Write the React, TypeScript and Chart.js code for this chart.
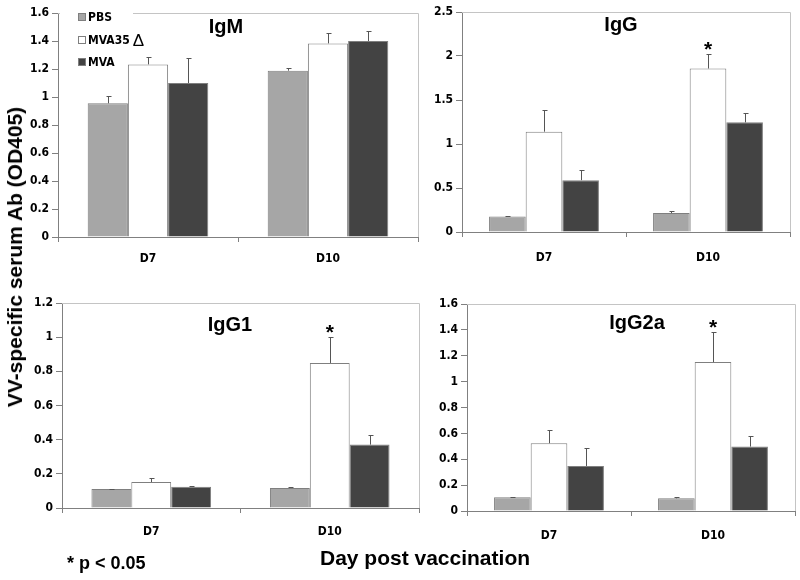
import React, { useEffect, useRef } from "react";
import { Chart, registerables } from "chart.js";

Chart.register(...registerables);

// ---------- data ----------
const categories = ["D7", "D10"];
const seriesNames = ["PBS", "MVA35", "MVA"];
const seriesColors = ["#a6a6a6", "#ffffff", "#434343"];

const igmPBS = [0.955, 1.188];
const igmMVA35 = [1.233, 1.383];
const igmMVA = [1.1, 1.4];
const igmPBSErr = [0.055, 0.022];
const igmMVA35Err = [0.05, 0.077];
const igmMVAErr = [0.18, 0.074];
const igmSig = [false, false];

const iggPBS = [0.177, 0.215];
const iggMVA35 = [1.14, 1.858];
const iggMVA = [0.589, 1.246];
const iggPBSErr = [0.008, 0.019];
const iggMVA35Err = [0.246, 0.17];
const iggMVAErr = [0.117, 0.102];
const iggSig = [false, true];

const igg1PBS = [0.111, 0.117];
const igg1MVA35 = [0.152, 0.849];
const igg1MVA = [0.125, 0.371];
const igg1PBSErr = [0.002, 0.006];
const igg1MVA35Err = [0.024, 0.152];
const igg1MVAErr = [0.006, 0.058];
const igg1Sig = [false, true];

const igg2aPBS = [0.106, 0.098];
const igg2aMVA35 = [0.524, 1.151];
const igg2aMVA = [0.348, 0.498];
const igg2aPBSErr = [0.002, 0.008];
const igg2aMVA35Err = [0.103, 0.232];
const igg2aMVAErr = [0.137, 0.083];
const igg2aSig = [false, true];

const yAxisTitle = "VV-specific serum Ab (OD405)";
const xAxisTitle = "Day post vaccination";
const footnote = "* p < 0.05";

// ---------- layout ----------
const YW = 44;
const XH = 40;
const PT = 12;
const PR = 12;
const NARROW = "'Liberation Sans Narrow', 'Arial Narrow', 'DejaVu Sans Condensed', sans-serif";
const SANS = "'Liberation Sans', Arial, Helvetica, sans-serif";

type Panel = {
  title: string;
  values: number[][];
  errors: number[][];
  sig: boolean[];
  yMax: number;
  yStep: number;
  area: { l: number; t: number; r: number; b: number };
  titleAt: [number, number];
  xPad: number;
  legend?: boolean;
};

const panels: Panel[] = [
  {
    title: "IgM",
    values: [igmPBS, igmMVA35, igmMVA],
    errors: [igmPBSErr, igmMVA35Err, igmMVAErr],
    sig: igmSig,
    yMax: 1.6,
    yStep: 0.2,
    area: { l: 58, t: 13, r: 418, b: 237 },
    titleAt: [168, 14],
    xPad: 10,
    legend: true,
  },
  {
    title: "IgG",
    values: [iggPBS, iggMVA35, iggMVA],
    errors: [iggPBSErr, iggMVA35Err, iggMVAErr],
    sig: iggSig,
    yMax: 2.5,
    yStep: 0.5,
    area: { l: 462, t: 12, r: 790, b: 232 },
    titleAt: [159, 13],
    xPad: 14,
  },
  {
    title: "IgG1",
    values: [igg1PBS, igg1MVA35, igg1MVA],
    errors: [igg1PBSErr, igg1MVA35Err, igg1MVAErr],
    sig: igg1Sig,
    yMax: 1.2,
    yStep: 0.2,
    area: { l: 62, t: 303, r: 419, b: 508 },
    titleAt: [168, 22],
    xPad: 12,
  },
  {
    title: "IgG2a",
    values: [igg2aPBS, igg2aMVA35, igg2aMVA],
    errors: [igg2aPBSErr, igg2aMVA35Err, igg2aMVAErr],
    sig: igg2aSig,
    yMax: 1.6,
    yStep: 0.2,
    area: { l: 467, t: 304, r: 795, b: 511 },
    titleAt: [170, 19],
    xPad: 13,
  },
];

function makePlugin(p: Panel) {
  return {
    id: "panelDecor",
    beforeDatasetsDraw(chart: any) {
      const { ctx, chartArea } = chart;
      ctx.save();
      ctx.strokeStyle = "#c4c4c4";
      ctx.lineWidth = 1;
      ctx.beginPath();
      ctx.moveTo(chartArea.left, Math.round(chartArea.top) + 0.5);
      ctx.lineTo(Math.round(chartArea.right) + 0.5, Math.round(chartArea.top) + 0.5);
      ctx.lineTo(Math.round(chartArea.right) + 0.5, chartArea.bottom);
      ctx.stroke();
      ctx.restore();
    },
    afterDatasetsDraw(chart: any) {
      const { ctx, chartArea } = chart;
      const yScale = chart.scales.y;
      ctx.save();
      // error bars
      ctx.strokeStyle = "#555555";
      ctx.lineWidth = 1;
      p.values.forEach((vals, di) => {
        const meta = chart.getDatasetMeta(di);
        meta.data.forEach((el: any, j: number) => {
          const top = yScale.getPixelForValue(vals[j] + p.errors[di][j]);
          const x = Math.round(el.x) + 0.5;
          const yt = Math.round(top) + 0.5;
          ctx.beginPath();
          ctx.moveTo(x, el.y);
          ctx.lineTo(x, yt);
          ctx.moveTo(x - 2, yt);
          ctx.lineTo(x + 3, yt);
          ctx.stroke();
        });
      });
      // significance stars on MVA35
      ctx.fillStyle = "#000";
      ctx.font = `bold 21px ${SANS}`;
      ctx.textAlign = "center";
      ctx.textBaseline = "alphabetic";
      const meta1 = chart.getDatasetMeta(1);
      p.sig.forEach((s, j) => {
        if (!s) return;
        const el: any = meta1.data[j];
        const top = yScale.getPixelForValue(p.values[1][j] + p.errors[1][j]);
        ctx.fillText("*", el.x, top + 2);
      });
      // title
      ctx.font = `bold 20px ${SANS}`;
      ctx.textBaseline = "middle";
      ctx.fillText(p.title, chartArea.left + p.titleAt[0], chartArea.top + p.titleAt[1]);
      // legend
      if (p.legend) {
        ctx.fillStyle = "#fff";
        ctx.fillRect(chartArea.left + 2, chartArea.top - 3, 73, 6);
        const rows = [4, 27, 49];
        seriesNames.forEach((name, i) => {
          const sx = chartArea.left + 20;
          const sy = chartArea.top + rows[i];
          ctx.fillStyle = seriesColors[i];
          ctx.fillRect(sx, sy - 4, 8, 8);
          ctx.strokeStyle = "#7f7f7f";
          ctx.strokeRect(sx + 0.5, sy - 3.5, 7, 7);
          ctx.fillStyle = "#000";
          ctx.textAlign = "left";
          ctx.textBaseline = "middle";
          ctx.font = `bold 12px ${NARROW}`;
          ctx.fillText(name, sx + 10, sy + 1);
          if (i === 1) {
            const w = ctx.measureText(name).width;
            ctx.font = `17px ${SANS}`;
            ctx.fillText("\u0394", sx + 10 + w + 3, sy + 1);
          }
        });
      }
      ctx.restore();
    },
  };
}

function PanelChart({ p }: { p: Panel }) {
  const ref = useRef<HTMLCanvasElement>(null);
  const { l, t, r, b } = p.area;
  const left = l - YW;
  const top = t - PT;
  const width = YW + (r - l) + PR;
  const height = PT + (b - t) + XH;

  useEffect(() => {
    if (!ref.current) return;
    const tickFont = { family: NARROW, size: 12, weight: "bold" as const };
    const chart = new Chart(ref.current, {
      type: "bar",
      data: {
        labels: categories,
        datasets: p.values.map((vals, i) => ({
          label: seriesNames[i],
          data: vals,
          backgroundColor: seriesColors[i],
          borderColor: "#7f7f7f",
          borderWidth: 1,
          categoryPercentage: 0.67,
          barPercentage: 1.0,
        })),
      },
      options: {
        responsive: false,
        animation: false,
        devicePixelRatio: 1,
        layout: { padding: { left: 0, top: PT, right: PR, bottom: 0 } },
        plugins: { legend: { display: false }, tooltip: { enabled: false } },
        scales: {
          x: {
            grid: { offset: true, drawOnChartArea: false, tickLength: 5, color: "#808080" },
            border: { color: "#808080" },
            ticks: { font: tickFont, color: "#000", padding: p.xPad },
            afterFit: (s: any) => {
              s.height = XH;
            },
          },
          y: {
            min: 0,
            max: p.yMax,
            ticks: {
              stepSize: p.yStep,
              font: tickFont,
              color: "#000",
              padding: 3,
              callback: (v: any) => String(+Number(v).toFixed(2)),
            },
            grid: { drawOnChartArea: false, tickLength: 6, color: "#808080" },
            border: { color: "#808080" },
            afterFit: (s: any) => {
              s.width = YW;
            },
          },
        },
      },
      plugins: [makePlugin(p)],
    } as any);
    return () => chart.destroy();
  }, []);

  return (
    <canvas
      ref={ref}
      width={width}
      height={height}
      style={{ position: "absolute", left, top, width, height }}
    />
  );
}

export default function App() {
  return (
    <div
      style={{
        position: "absolute",
        left: 0,
        top: 0,
        width: 800,
        height: 580,
        background: "#fff",
        overflow: "hidden",
      }}
    >
      {panels.map((p) => (
        <PanelChart key={p.title} p={p} />
      ))}
      <div
        style={{
          position: "absolute",
          left: 15,
          top: 257,
          transform: "translate(-50%, -50%) rotate(-90deg)",
          whiteSpace: "nowrap",
          font: `bold 21px ${SANS}`,
          color: "#000",
        }}
      >
        {yAxisTitle}
      </div>
      <div
        style={{
          position: "absolute",
          left: 425,
          top: 558,
          transform: "translate(-50%, -50%)",
          whiteSpace: "nowrap",
          font: `bold 21px ${SANS}`,
          color: "#000",
        }}
      >
        {xAxisTitle}
      </div>
      <div
        style={{
          position: "absolute",
          left: 67,
          top: 563,
          transform: "translate(0, -50%)",
          whiteSpace: "nowrap",
          font: `bold 18px ${SANS}`,
          color: "#000",
        }}
      >
        {footnote}
      </div>
    </div>
  );
}
